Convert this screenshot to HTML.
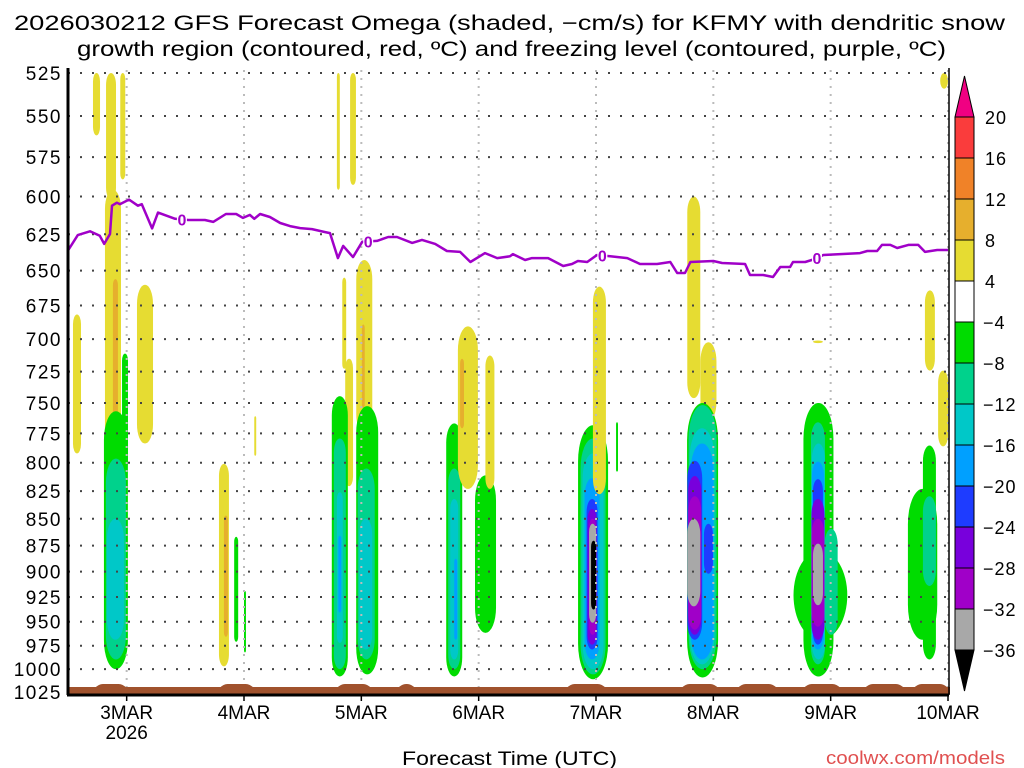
<!DOCTYPE html>
<html><head><meta charset="utf-8"><style>
html,body{margin:0;padding:0;background:#fff;}
svg{display:block;font-family:"Liberation Sans",sans-serif;}
</style></head><body>
<svg id="chart" width="1024" height="768" viewBox="0 0 1024 768" xmlns="http://www.w3.org/2000/svg">
<rect x="0" y="0" width="1024" height="768" fill="#fff"/>
<text x="14" y="30" font-size="21" textLength="991" lengthAdjust="spacingAndGlyphs">2026030212 GFS Forecast Omega (shaded, −cm/s) for KFMY with dendritic snow</text>
<text x="77" y="56" font-size="21" textLength="869" lengthAdjust="spacingAndGlyphs">growth region (contoured, red, ºC) and freezing level (contoured, purple, ºC)</text>
<g id="shading"></g>
<g id="grid"></g>
<g id="terrain"></g>
<g id="frz"></g>
<g id="axes"></g>
<g id="cbar"></g>
<text x="402" y="765" font-size="19" textLength="215" lengthAdjust="spacingAndGlyphs">Forecast Time (UTC)</text>
<text x="826" y="764" font-size="18" fill="#e05050" textLength="179" lengthAdjust="spacingAndGlyphs">coolwx.com/models</text>
</svg>
<script>
// ---- data ----
const pressureTicks = [525,550,575,600,625,650,675,700,725,750,775,800,825,850,875,900,925,950,975,1000,1025];
const dayLabels = ["3MAR","4MAR","5MAR","6MAR","7MAR","8MAR","9MAR","10MAR"];
const dayHours = [12,36,60,84,108,132,156,180];
const frzTime = [0,2,4.5,6.5,7.4,8.6,9,10,10.6,12.5,14.3,15.1,17.2,18.4,21.9,24.6,28,29.7,32.3,34.4,35.8,37.2,38.1,39.3,41.3,43.4,45.4,47.5,49.9,52.6,53.6,55.2,56.3,58.3,60.2,63.2,65.5,67.3,70.4,72.4,75.1,77.5,80.2,82.3,85.3,87.8,90.4,91,93.5,94.9,98.2,101.3,103.1,104.3,106.2,108.2,110.9,114.4,117,120.5,123.2,124.6,126.2,127.3,132,133.8,138.5,139.5,142.2,144.2,145.7,147.7,148.3,150.8,152.8,154.5,162,163.5,165.5,166.5,168.2,169.6,171.9,173.9,175.3,177.8,180];
const frzPres = [636,625.5,623,626,631.5,624.8,606,604,605,602,606,605,621,610.5,614.6,615.4,615.4,616.7,611.4,611.4,614,612,614.6,611.4,613.4,617.4,619.5,620.8,621.5,623.5,624.2,641.3,632.9,640.6,630,629.5,626.8,626.8,630.8,628.8,631.5,636.4,637,644,637.8,641.3,640,638.5,642.6,641.3,641.3,646.8,645.4,643.3,644,639.1,640,641.3,645.4,645.4,644,651.7,651.7,644,643.3,644.7,645.4,653.1,653.1,654.5,647.5,647.5,644,644,641.9,639.1,637.8,636.4,636.4,632.2,632.2,634.3,632.2,632.2,637,635.7,635.7];
const frzLabelTime = [23.3,61.4,109.3,153.2];
// omega cells: center time (h), half-width (h), top (hPa), bottom (hPa), value (-cm/s)
const cellTime = [1.84,5.83,8.8,11.2,9.2,9.7,11.66,9.8,9.8,9.7,15.75,31.9,32.3,34.4,36.2,38.3,55.3,58.3,56.5,57.5,60.6,60.4,55.6,55.6,55.6,55.6,61.2,61,60.9,79,79,79,79.3,85.4,81.8,80.6,86.3,107.4,107.4,107.4,107.2,107.2,107.2,107.3,107.3,107.5,108.7,112.3,128,131,129.8,129.8,129.7,129.7,128.2,131,128.2,128.2,128,153.9,153.5,153.4,156.1,153.5,153.4,153.4,153.4,153.4,153.4,153.4,176.2,174.8,176.2,176.3,179,179.2];
const cellHalf = [0.82,0.72,1.02,0.51,1.64,0.51,0.61,2.45,2.05,1.74,1.64,1.02,0.41,0.41,0.2,0.2,0.3,0.6,0.4,0.8,1.64,0.3,1.64,1.23,0.6,0.3,2.25,1.74,1.33,1.64,1.23,0.82,0.3,2.15,2.05,0.4,0.92,3.07,2.56,2.15,1.53,1.12,0.92,0.72,0.72,0.51,1.33,0.2,1.33,1.64,3.17,2.86,2.56,2.35,1.53,0.92,1.33,1.33,1.33,5.5,3.07,1.43,1.33,1.33,1.23,1.02,1.33,1.33,1.02,1.02,1.33,3.0,1.33,1.02,1.02,0.8];
const cellTop = [681.6,525,525,525,595.6,656,711,756.7,796.5,850,660,801,847,866.7,919,760.8,525,525,655,715,642.6,689,744.5,779.3,826,865.7,752.5,805,850,766.7,805,832,887.5,811,690.4,715,712.5,768.3,779.3,792,813.4,832,841,850,854.6,870.4,661.4,765.8,600,702.3,750,751.7,770.8,783.6,798.3,854.6,811.6,829.5,850,879.8,750,765.8,859.3,783.6,799.1,814.3,832,850,873.1,701,785.3,823,829.5,664,724.2,525];
const cellBot = [792,561.6,602,589,805,762.5,805,1000,989.6,968.75,783.6,997,965.6,970.8,982,794,595.6,592.5,722.7,820.5,775,754,1008,1000,972,940.6,1005.7,989.6,979,1008,1000,989.6,968.75,961.5,823,770.8,823,1011,1005.7,1000,989.6,979,973.9,963.5,951,937.5,827.7,807.7,746.1,765,1009,1000,994.8,989.6,968.75,902,963.5,958.3,934.4,968.75,1008,994.8,963.5,989.6,979,973.9,968.75,955.2,933.3,703,989.6,968.75,914,724.2,786,534];
const cellValue = [6,6,6,6,6,10,-6,-6,-10,-14,6,6,10,-6,-6,6,6,6,6,6,6,10,-6,-10,-14,-18,-6,-10,-14,-6,-10,-14,-18,-6,6,10,6,-6,-10,-14,-18,-22,-26,-30,-34,-38,6,-6,6,6,-6,-10,-14,-18,-22,-22,-26,-30,-34,-6,-6,-10,-10,-14,-18,-22,-26,-30,-34,6,-6,-6,-10,6,6,6];
const terrainTime = [5.5,12,31,38,55,62,67.5,71,102,110,125.5,133,137,145,150.5,158,163,171,173,180];
const cbarValues = [20,16,12,8,4,-4,-8,-12,-16,-20,-24,-28,-32,-36];
const cbarColors = ["#f00082","#fa3c3c","#f08228","#e6af2d","#e6dc32","#ffffff","#00dc00","#00d28c","#00c8c8","#00a0ff","#1e3cff","#7800dc","#a000c8","#a8a8a8","#000000"];

// ---- scales ----
const X0=68, X1=948, Y0=73, Y1=692;
const lnTop=Math.log(525), lnBot=Math.log(1025);
function xs(h){return X0+(h/180)*(X1-X0);}
function ys(p){return Y0+(Math.log(p)-lnTop)/(lnBot-lnTop)*(Y1-Y0);}
function colorFor(v){
  for(let i=0;i<cbarValues.length;i++){ if(v>=cbarValues[i]) return cbarColors[i]; }
  return cbarColors[cbarColors.length-1];
}
const NS="http://www.w3.org/2000/svg";
function mk(tag,attrs,parent){const e=document.createElementNS(NS,tag);for(const k in attrs)e.setAttribute(k,attrs[k]);parent.appendChild(e);return e;}

// ---- shading ----
const gS=document.getElementById('shading');
for(let i=0;i<cellTime.length;i++){
  const x1=xs(cellTime[i]-cellHalf[i]), x2=xs(cellTime[i]+cellHalf[i]);
  const y1=ys(cellTop[i]), y2=ys(cellBot[i]);
  const w=Math.max(x2-x1,1.5), h=y2-y1;
  const r=mk('rect',{x:x1,y:y1,width:w,height:h,rx:w/2,ry:Math.min(w*1.2,h/2),fill:colorFor(cellValue[i])},gS);
  
  
}

// ---- grid ----
const gG=document.getElementById('grid');
pressureTicks.forEach(p=>{
  const l=mk('line',{x1:X0,x2:X1,y1:ys(p),y2:ys(p),stroke:'#444','stroke-width':2,'stroke-dasharray':'2 10'},gG);
  
  
});
dayHours.forEach(h=>{
  const l=mk('line',{x1:xs(h),x2:xs(h),y1:Y0-3,y2:Y1,stroke:'#bbb','stroke-width':2,'stroke-dasharray':'2 6'},gG);
  
  
});

// ---- terrain ----
const gT=document.getElementById('terrain');
const base=mk('rect',{x:X0,y:687,width:X1-X0+2,height:7,fill:'#a0522d'},gT);


for(let i=0;i<terrainTime.length;i+=2){
  const a=xs(terrainTime[i]), b=xs(terrainTime[i+1]);
  const bp=mk('path',{d:`M${a},688 Q${a+4},684 ${a+8},684 L${b-8},684 Q${b-4},684 ${b},688 Z`,fill:'#a0522d'},gT);
  
  
}

// ---- freezing level ----
const gF=document.getElementById('frz');
let d='';
frzTime.forEach((t,i)=>{d+=(i?'L':'M')+xs(t).toFixed(1)+','+ys(frzPres[i]).toFixed(1);});
const fl=mk('path',{d:d,fill:'none',stroke:'#a000c8','stroke-width':2.5,'stroke-linejoin':'round'},gF);


function interpP(t){for(let i=1;i<frzTime.length;i++){if(t<=frzTime[i]){const f=(t-frzTime[i-1])/(frzTime[i]-frzTime[i-1]);return frzPres[i-1]+f*(frzPres[i]-frzPres[i-1]);}}return frzPres[frzPres.length-1];}
frzLabelTime.forEach(t=>{
  const x=xs(t), y=ys(interpP(t));
  const bg=mk('rect',{x:x-5,y:y-8,width:10,height:16,fill:'#fff'},gF);
  
  
  const tx=mk('text',{x:x,y:y+6,'font-size':16,'font-weight':'bold','text-anchor':'middle',fill:'#a000c8'},gF);
  tx.textContent='0';
  
  
});

// ---- axes ----
const gA=document.getElementById('axes');
const la=mk('line',{x1:X0,x2:X0,y1:Y0-5,y2:Y1+3,stroke:'#000','stroke-width':3},gA);


const ba=mk('line',{x1:X0-1,x2:X1+1,y1:Y1+3,y2:Y1+3,stroke:'#000','stroke-width':3},gA);


const ra=mk('line',{x1:X1+1,x2:X1+1,y1:Y0-5,y2:Y1+3,stroke:'#000','stroke-width':1.5},gA);


pressureTicks.forEach(p=>{
  const t=mk('text',{x:62,y:ys(p)+7,'font-size':19,'text-anchor':'end','letter-spacing':1.5},gA);
  t.textContent=String(p);
  
  
});
dayHours.forEach((h,i)=>{
  const tk=mk('line',{x1:xs(h),x2:xs(h),y1:Y1+3,y2:Y1+9,stroke:'#000','stroke-width':1.5},gA);
  
  
  const t=mk('text',{x:xs(h),y:719,'font-size':19,'text-anchor':'middle'},gA);
  t.textContent=dayLabels[i];
  
  
});
const yr=mk('text',{x:xs(12),y:739,'font-size':19,'text-anchor':'middle'},gA);
yr.textContent='2026';



// ---- colorbar ----
const gC=document.getElementById('cbar');
const CB0=955, CB1=974, CT=117, CS=41;
const topTri=mk('path',{d:`M${CB0},${CT} L${(CB0+CB1)/2},${CT-41} L${CB1},${CT} Z`,fill:cbarColors[0],stroke:'#000','stroke-width':1},gC);


for(let i=1;i<cbarColors.length-1;i++){
  const r=mk('rect',{x:CB0,y:CT+(i-1)*CS,width:CB1-CB0,height:CS,fill:cbarColors[i],stroke:'#000','stroke-width':1},gC);
  
  
}
const yb=CT+(cbarColors.length-2)*CS;
const botTri=mk('path',{d:`M${CB0},${yb} L${(CB0+CB1)/2},${yb+41} L${CB1},${yb} Z`,fill:'#000',stroke:'#000','stroke-width':1},gC);


cbarValues.forEach((v,i)=>{
  const t=mk('text',{x:v<0?983:985,y:CT+i*CS+7,'font-size':18,'letter-spacing':1},gC);
  t.textContent=v<0?'−'+Math.abs(v):String(v);
  
  
});
</script>
</body></html>
